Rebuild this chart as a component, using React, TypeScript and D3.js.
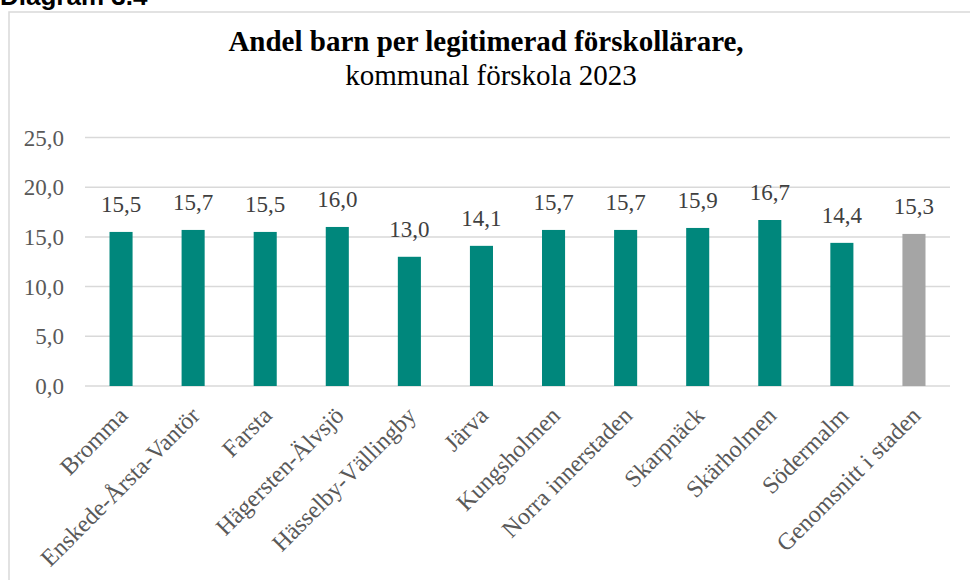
import { useEffect, useRef } from "react"
import * as d3 from "d3"

// Stadsdelar and values
const districts = [
  "Bromma",
  "Enskede-Årsta-Vantör",
  "Farsta",
  "Hägersten-Älvsjö",
  "Hässelby-Vällingby",
  "Järva",
  "Kungsholmen",
  "Norra innerstaden",
  "Skarpnäck",
  "Skärholmen",
  "Södermalm",
  "Genomsnitt i staden",
]
const childrenPerTeacher = [15.5, 15.7, 15.5, 16.0, 13.0, 14.1, 15.7, 15.7, 15.9, 16.7, 14.4, 15.3]
const yTicks = [0, 5, 10, 15, 20, 25]
const averageLabel = "Genomsnitt i staden"

const fmt = (v: number) => v.toFixed(1).replace(".", ",")

function BarChart() {
  const svgRef = useRef<SVGSVGElement>(null)

  useEffect(() => {
    if (!svgRef.current) return
    const svg = d3.select(svgRef.current)
    svg.selectAll("*").remove()

    const width = 970
    const height = 580
    const serif = "Liberation Serif, Tinos, Times New Roman, DejaVu Serif, serif"

    // Outer frame of the chart object
    svg
      .append("rect")
      .attr("x", 9)
      .attr("y", 12)
      .attr("width", 1000)
      .attr("height", 600)
      .attr("fill", "#fff")
      .attr("stroke", "#d9d9d9")
      .attr("stroke-width", 1.5)

    // Figure number, cut by the top edge as in the source
    svg
      .append("text")
      .attr("x", 0)
      .attr("y", 5)
      .attr("font-family", "Liberation Sans, Arial, sans-serif")
      .attr("font-weight", "bold")
      .attr("font-size", 26)
      .attr("fill", "#000")
      .text("Diagram 3.4")

    // Titles
    svg
      .append("text")
      .attr("x", 486)
      .attr("y", 51)
      .attr("text-anchor", "middle")
      .style("font-family", serif)
      .attr("font-weight", "bold")
      .attr("font-size", 29)
      .text("Andel barn per legitimerad förskollärare,")

    svg
      .append("text")
      .attr("x", 491)
      .attr("y", 85)
      .attr("text-anchor", "middle")
      .style("font-family", serif)
      .attr("font-size", 29)
      .text("kommunal förskola 2023")

    const margin = { top: 137.5, left: 85, right: width - 950, bottom: height - 386 }
    const innerW = width - margin.left - margin.right
    const innerH = height - margin.top - margin.bottom

    const x = d3.scaleBand().domain(districts).range([0, innerW]).paddingInner(0.68).paddingOuter(0.34)
    const y = d3.scaleLinear().domain([0, 25]).range([innerH, 0])

    const g = svg.append("g").attr("transform", `translate(${margin.left},${margin.top})`)

    // Horizontal grid lines
    g.selectAll(".grid")
      .data(yTicks)
      .join("line")
      .attr("class", "grid")
      .attr("x1", 0)
      .attr("x2", innerW)
      .attr("y1", (d) => y(d))
      .attr("y2", (d) => y(d))
      .attr("stroke", "#d9d9d9")
      .attr("stroke-width", 1.5)

    // Y tick labels
    g.selectAll(".ytick")
      .data(yTicks)
      .join("text")
      .attr("class", "ytick")
      .attr("x", -21)
      .attr("y", (d) => y(d))
      .attr("dy", "0.35em")
      .attr("text-anchor", "end")
      .style("font-family", serif)
      .attr("font-size", 23)
      .attr("fill", "#595959")
      .text((d) => fmt(d))

    const data = districts.map((name, i) => ({ name, value: childrenPerTeacher[i] }))

    // Bars
    g.selectAll(".bar")
      .data(data)
      .join("rect")
      .attr("class", "bar")
      .attr("x", (d) => x(d.name)!)
      .attr("width", x.bandwidth())
      .attr("y", (d) => y(d.value))
      .attr("height", (d) => y(0) - y(d.value))
      .attr("fill", (d) => (d.name === averageLabel ? "#a5a5a5" : "#00877c"))

    // Value labels
    g.selectAll(".value")
      .data(data)
      .join("text")
      .attr("class", "value")
      .attr("x", (d) => x(d.name)! + x.bandwidth() / 2)
      .attr("y", (d) => y(d.value) - 20)
      .attr("text-anchor", "middle")
      .style("font-family", serif)
      .attr("font-size", 23)
      .attr("fill", "#404040")
      .text((d) => fmt(d.value))

    // Rotated category labels
    g.selectAll(".cat")
      .data(data)
      .join("text")
      .attr("class", "cat")
      .attr("transform", (d) => `translate(${x(d.name)! + x.bandwidth() / 2 + 8},${innerH + 31}) rotate(-45)`)
      .attr("text-anchor", "end")
      .style("font-family", serif)
      .attr("font-size", 24)
      .attr("fill", "#595959")
      .text((d) => d.name)
  }, [])

  return (
    <svg
      ref={svgRef}
      width={970}
      height={580}
      style={{ position: "absolute", left: 0, top: 0, display: "block", background: "#fff" }}
    />
  )
}

export default function App() {
  return <BarChart />
}
